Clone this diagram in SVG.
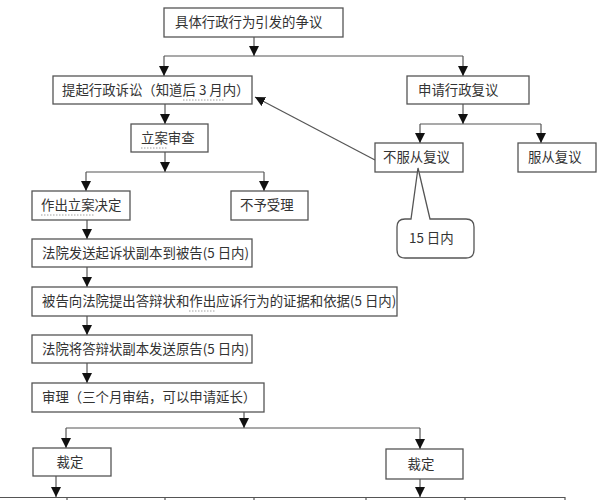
<svg xmlns="http://www.w3.org/2000/svg" width="600" height="500" viewBox="0 0 600 500">
<defs>
<marker id="ah" viewBox="0 0 10 10" refX="10" refY="5" markerWidth="10" markerHeight="10" markerUnits="userSpaceOnUse" orient="auto">
<path d="M0,0 L10,5 L0,10 z" fill="#111"/>
</marker>
<style>
.box{fill:#fff;stroke:#555;stroke-width:1.3}
.t{font-family:"Noto Sans CJK SC","Noto Sans",sans-serif;font-size:13.4px;fill:#333}
.c{fill:none;stroke:#555;stroke-width:1.2}
.a{fill:none;stroke:#555;stroke-width:1.2;marker-end:url(#ah)}
.sq{fill:none;stroke:#888;stroke-width:0.8;stroke-dasharray:1.5 1.5}
</style>
</defs>
<rect width="600" height="500" fill="#fff"/>
<g id="connectors">
<path class="a" d="M254,37 V56"/>
<path class="c" d="M164,56 H463"/>
<path class="a" d="M164,56 V76"/>
<path class="a" d="M463,56 V76"/>
<path class="a" d="M463,104 V124"/>
<path class="c" d="M420,124 H541"/>
<path class="a" d="M420,124 V143"/>
<path class="a" d="M541,124 V143"/>
<path class="a" d="M375,160 L255,97"/>
<path class="a" d="M165,104 V124"/>
<path class="a" d="M165,152 V172"/>
<path class="c" d="M86,172 H264"/>
<path class="a" d="M86,172 V191"/>
<path class="a" d="M264,172 V191"/>
<path class="a" d="M87,220 V239"/>
<path class="a" d="M87,267 V287"/>
<path class="a" d="M87,316 V335"/>
<path class="a" d="M87,363 V383"/>
<path class="a" d="M244,412 V428"/>
<path class="c" d="M66,428 H420"/>
<path class="a" d="M66,428 V448"/>
<path class="a" d="M420,428 V449"/>
<path class="a" d="M56,476 V497"/>
<path class="a" d="M420,479 V497"/>
<path class="c" d="M0,497.5 H565 M67,497 V500 M165,497 V500 M254,497 V500 M366,497 V500 M465,497 V500 M565,497 V500"/>
</g>
<g id="n1"><rect class="box" x="164" y="8" width="179" height="29"/><text class="t" x="175" y="27">具体行政行为引发的争议</text></g>
<g id="n2"><rect class="box" x="53" y="76" width="199" height="28"/><text class="t" x="62" y="95">提起行政诉讼（知道后 3 月内）</text><path class="sq" d="M183,100 H224"/></g>
<g id="n3"><rect class="box" x="407" y="76" width="122" height="28"/><text class="t" x="418" y="95">申请行政复议</text></g>
<g id="n4"><rect class="box" x="375" y="143" width="88" height="29"/><text class="t" x="383" y="162">不服从复议</text></g>
<g id="n5"><rect class="box" x="518" y="143" width="78" height="29"/><text class="t" x="528" y="162">服从复议</text></g>
<g id="n6"><rect class="box" x="131" y="124" width="77" height="28"/><text class="t" x="141" y="143">立案审查</text><path class="sq" d="M141,148 H168"/></g>
<g id="n7"><rect class="box" x="32" y="191" width="98" height="29"/><text class="t" x="41" y="210">作出立案决定</text><path class="sq" d="M41,215 H95"/></g>
<g id="n8"><rect class="box" x="231" y="191" width="77" height="29"/><text class="t" x="240" y="210">不予受理</text></g>
<g id="n9"><rect class="box" x="32" y="239" width="220" height="28"/><text class="t" x="42" y="258">法院发送起诉状副本到被告(5 日内)</text></g>
<g id="n10"><rect class="box" x="32" y="287" width="365" height="29"/><text class="t" x="42" y="306">被告向法院提出答辩状和作出应诉行为的证据和依据(5 日内)</text><path class="sq" d="M189,311 H216"/></g>
<g id="n11"><rect class="box" x="32" y="335" width="220" height="28"/><text class="t" x="42" y="354">法院将答辩状副本发送原告(5 日内)</text></g>
<g id="n12"><rect class="box" x="32" y="383" width="232" height="29"/><text class="t" x="42" y="402">审理（三个月审结，可以申请延长）</text></g>
<g id="n13"><rect class="box" x="33" y="448" width="78" height="28"/><text class="t" x="70" y="467" text-anchor="middle">裁定</text></g>
<g id="n14"><rect class="box" x="386" y="449" width="77" height="30"/><text class="t" x="421" y="469" text-anchor="middle">裁定</text></g>
<g id="callout"><path class="box" d="M418,168 L430,219 H466 Q474,219 474,227 V250 Q474,258 466,258 H405 Q397,258 397,250 V227 Q397,219 405,219 H411 Z"/><text class="t" x="409" y="243">15 日内</text></g>
</svg>
